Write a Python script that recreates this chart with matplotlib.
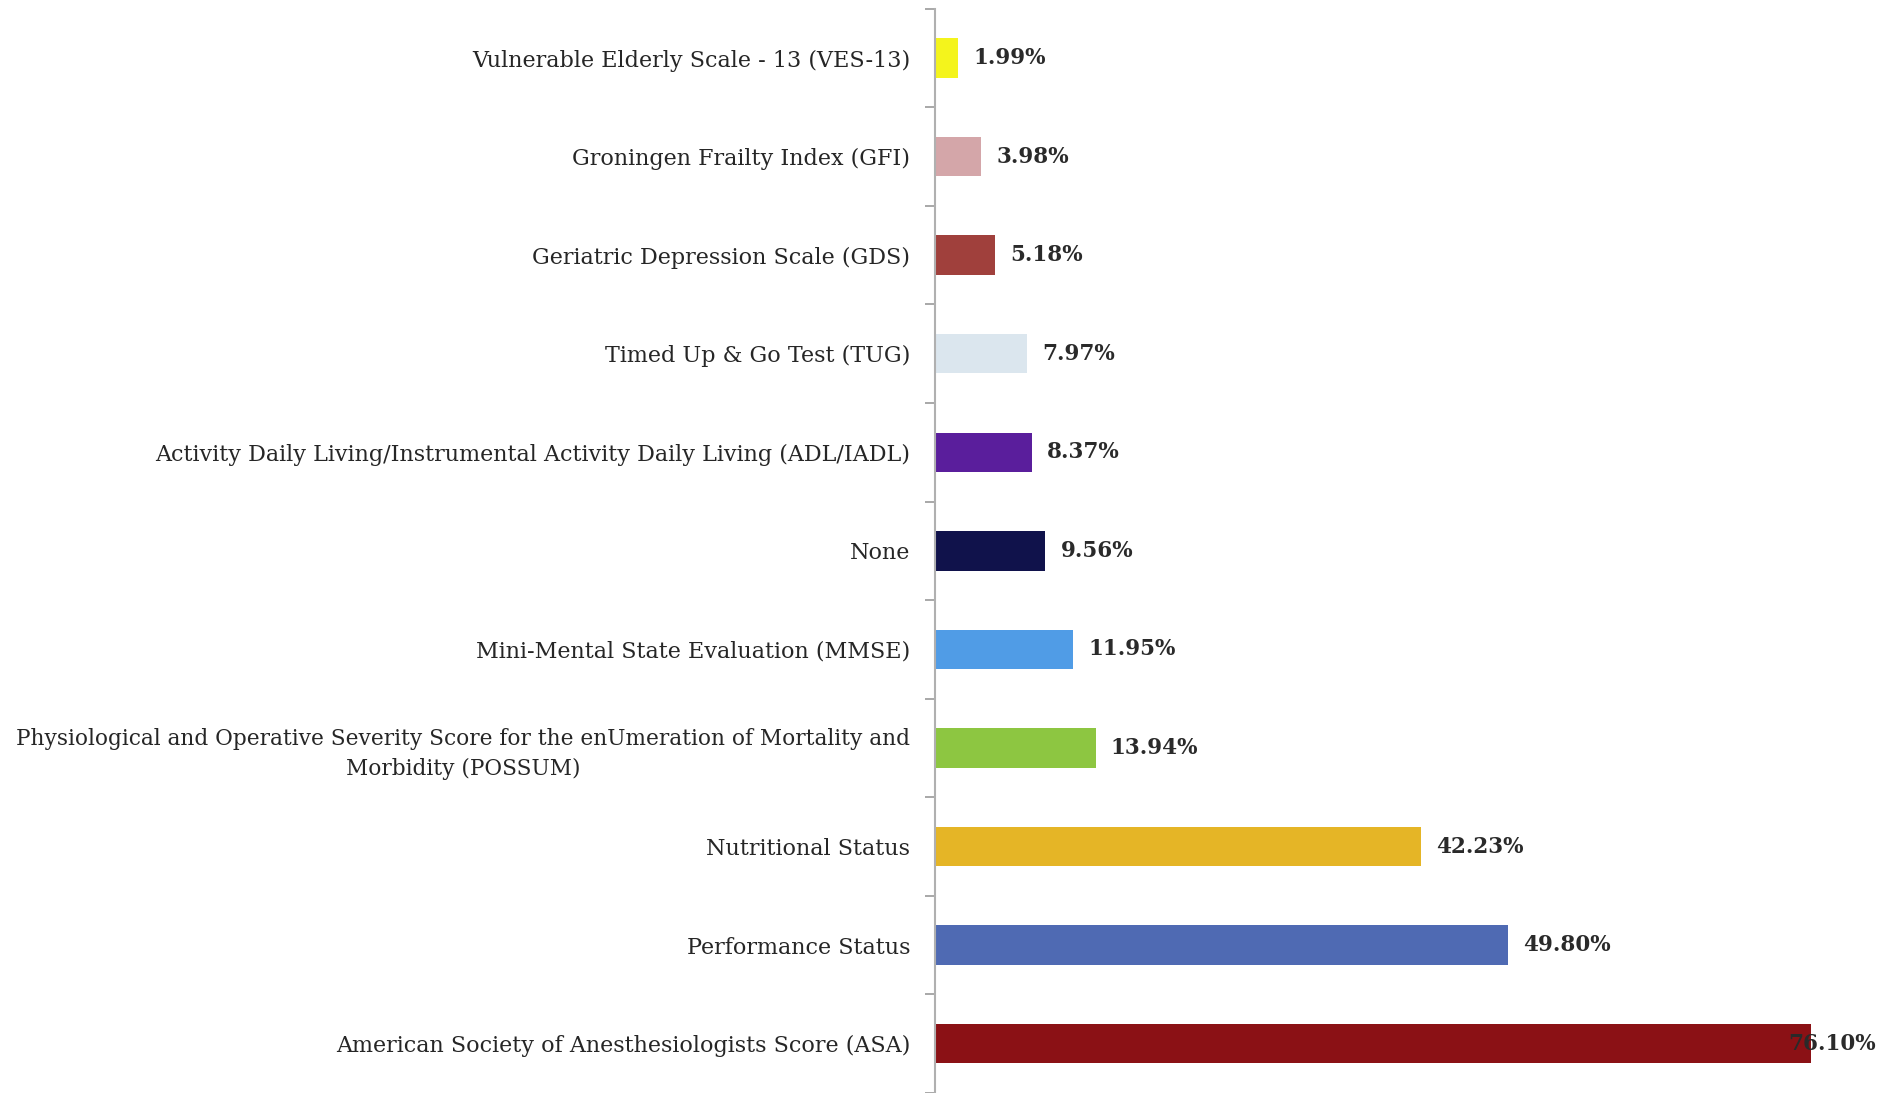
import numpy as np
import matplotlib.pyplot as plt
from matplotlib.ticker import FixedLocator

# data, bottom to top
labels = [
    "American Society of Anesthesiologists Score (ASA)",
    "Performance Status",
    "Nutritional Status",
    "Physiological and Operative Severity Score for the enUmeration of Mortality and\nMorbidity (POSSUM)",
    "Mini-Mental State Evaluation (MMSE)",
    "None",
    "Activity Daily Living/Instrumental Activity Daily Living (ADL/IADL)",
    "Timed Up & Go Test (TUG)",
    "Geriatric Depression Scale (GDS)",
    "Groningen Frailty Index (GFI)",
    "Vulnerable Elderly Scale - 13 (VES-13)",
]
values = [76.10, 49.80, 42.23, 13.94, 11.95, 9.56, 8.37, 7.97, 5.18, 3.98, 1.99]
colors = ["#8b1115", "#4f6ab3", "#e5b526", "#8dc641", "#509ce6", "#10124b",
          "#5a1e9c", "#dbe6ee", "#a0403c", "#d4a6a9", "#f4f41c"]

fig = plt.figure(figsize=(18.97, 10.93), dpi=100)
ax = fig.add_axes([0.493, 0.0, 0.507, 0.992])

y = np.arange(len(values))
ax.barh(y, values, height=0.4, color=colors)

ax.set_xlim(0, 83.6)
ax.set_ylim(-0.5, len(values) - 0.5)

ax.set_yticks(y)
ax.set_yticklabels(labels, fontsize=16, family="DejaVu Serif", color="#262626",
                   multialignment="center", linespacing=1.45)
# the long two-line label is a bit narrower in the original
ax.get_yticklabels()[3].set_fontsize(15.6)
ax.tick_params(axis="y", which="major", length=0, pad=18)
ax.yaxis.set_minor_locator(FixedLocator(np.arange(-0.5, len(values), 1.0)))
ax.tick_params(axis="y", which="minor", length=7, color="#999999", width=1.2)
ax.set_xticks([])

for s in ["top", "right", "bottom"]:
    ax.spines[s].set_visible(False)
ax.spines["left"].set_color("#b0b0b0")
ax.spines["left"].set_linewidth(1.5)

for yi, v in zip(y, values):
    off = 11 if v < 70 else -16
    ax.annotate(f"{v:.2f}%", (v, yi), xytext=(off, 0), textcoords="offset points",
                va="center", ha="left", fontsize=15.5, fontweight="bold",
                family="DejaVu Serif", color="#2a2a2a")

fig.savefig("out.png", dpi=100)
